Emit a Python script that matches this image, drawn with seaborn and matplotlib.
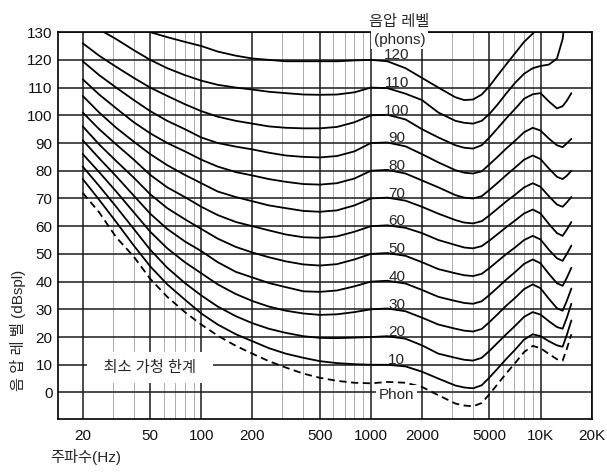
import numpy as np
import pandas as pd
import matplotlib
matplotlib.use("Agg")
import matplotlib.pyplot as plt
import seaborn as sns
from matplotlib.ticker import FixedLocator, FixedFormatter, NullFormatter

nan = np.nan

freqs = [20, 25, 31.5, 40, 50, 63, 80, 100, 125, 160, 200, 250, 315, 400, 500, 630, 800,
         1000, 1250, 1600, 2000, 2500, 3150, 3550, 4000, 4500, 5000, 5600, 6300, 7100, 8000,
         9000, 10000, 11200, 12500, 13500, 14300, 15200]

# sound pressure level (dB SPL) of each equal-loudness contour
phon_120 = [142, 139.5, 137, 133.5, 130, 128.2, 126.5, 125, 123, 121.5, 120.5, 120, 119.5, 119.5,
            119.5, 119.5, 119.8, 120, 119.5, 117,
            113.5, 110, 106.5, 105.5, 105.7, 107.5, 110.5, 114.5, 118.5, 122.5, 126.5, 129.5, 132,
            nan, nan, nan, nan, nan]
phon_110 = [134.5, 131, 127.5, 123.5, 120, 117, 114.5, 112.5, 111, 110, 109.3, 108.5, 108, 107.5,
            107.4, 107.5, 108.3, 110, 109.8, 107.8,
            105.5, 101, 98, 97.3, 97, 98, 100.5, 104, 108, 111.8, 115, 117, 117.8, 118.3, 120.5,
            127.5, 140, nan]
phon_100 = [126, 121.5, 117.5, 113.5, 110, 107, 104, 101.5, 99.5, 98, 97, 96, 95.5, 95.3, 95.3,
            95.8, 97.5, 100, 100.2, 98.5,
            95, 92, 89.2, 88.3, 88, 89.2, 92, 95.4, 99, 102.4, 106, 107.6, 108, 105, 102.5, 103.3,
            105.3, 108]
phon_90 = [119.5, 114.5, 110, 105.5, 101.5, 98, 95, 92, 90, 88.7, 87.7, 86.5, 85.5, 85, 84.8,
           85.3, 87, 90, 90.2, 88.8,
           86, 83, 80.2, 79.3, 79, 79.8, 82.3, 85.1, 88.1, 90.9, 93.9, 95.5, 94.5, 91.6, 89.2,
           88.5, 89.9, 91.5]
phon_80 = [113, 107.5, 102.5, 97.5, 93.5, 90, 87, 84, 81.5, 79.5, 78.3, 77, 76, 75.2, 75, 75.5,
           77.2, 80, 80.3, 79,
           76.5, 74, 71.2, 70.3, 70, 70.8, 73.1, 75.7, 78.5, 81.2, 84, 85.5, 84.2, 80.8, 77.8,
           77, 78.2, 80]
phon_70 = [107, 101, 95.5, 90.5, 86, 82, 78.5, 75.5, 72.5, 70.5, 69, 67.5, 66.5, 65.5, 65.2,
           65.7, 67.5, 70, 70.3, 69.2,
           67, 64.5, 62.2, 61.3, 61, 61.8, 63.9, 66.4, 69, 71.4, 74, 75.5, 74.2, 70.8, 67.8, 67,
           68.6, 70.5]
phon_60 = [101, 95, 89.5, 84, 78.5, 74, 70.5, 67, 64, 61.5, 60, 58.5, 57, 56, 55.8, 56.3, 58,
           60, 60.3, 59.4,
           57.5, 55, 53.2, 52.3, 52, 52.8, 54.8, 57.2, 59.7, 62.1, 64.6, 66, 64.6, 60.8, 57.5,
           56.5, 58.8, 61.5]
phon_50 = [96, 89.5, 83.5, 77.5, 71.5, 66.5, 62.5, 59, 55.5, 52.5, 50.5, 48.8, 47.3, 46.2, 45.8,
           46.3, 48, 50, 50.3, 49.3,
           47, 44.5, 43, 42.3, 42, 42.8, 44.9, 47.4, 50, 52.4, 55, 56.5, 55.2, 51.5, 48.4, 47.5,
           50, 53]
phon_40 = [91, 84.5, 78, 71, 64.5, 59, 54.5, 51, 47, 43.5, 41.5, 39.5, 38, 36.5, 36.3, 36.8,
           38.3, 40, 40.3, 39.3,
           37, 34.5, 33, 32.3, 32, 32.9, 35.2, 37.9, 40.8, 43.5, 46.4, 48, 46.6, 42.8, 39.4, 38.5,
           41.4, 45]
phon_30 = [86, 79.5, 72.5, 65, 58, 52, 47, 43, 39, 35.5, 33, 31, 29.5, 28.5, 28, 28.2, 29, 30,
           30.3, 29.3,
           27, 24.5, 23, 22.3, 22, 22.9, 25.4, 28.3, 31.4, 34.2, 37.3, 39, 37.6, 33.8, 30.4, 29.5,
           33.1, 37.5]
phon_20 = [81.5, 74.5, 67, 59, 51.5, 45, 39.5, 35, 31, 27.5, 25, 23, 21.5, 20.3, 19.7, 19.6,
           19.8, 20, 20.3, 19.4,
           17, 14, 12.5, 11.8, 11.5, 12.5, 15, 18, 21.1, 24.1, 27.3, 29, 28.1, 25.7, 23.6, 23, 27,
           32]
phon_10 = [77, 69.5, 61.5, 53, 45.5, 39, 33.5, 28.5, 24.5, 21, 18.5, 16, 14, 12.5, 11.3, 10.6,
           10.2, 10, 10, 9.4,
           7.5, 5, 2.5, 1.8, 1.5, 2.6, 5.4, 8.7, 12.2, 15.5, 19.1, 21, 20.3, 18.5, 17, 16.5, 20.8,
           26]
threshold = [72, 65, 56, 49, 41, 34.5, 29, 24.5, 20.5, 16.8, 14, 11.3, 9, 6.8, 5.3, 4.2, 3.5,
             3.3, 3.8, 3.5,
             2, -1, -4, -4.7, -5, -3.8, -0.6, 3.1, 7, 10.7, 14.6, 16.8, 16, 13.9, 12, 11.5, 15.8,
             21]

phon_levels = [120, 110, 100, 90, 80, 70, 60, 50, 40, 30, 20, 10]
contours = [phon_120, phon_110, phon_100, phon_90, phon_80, phon_70, phon_60,
            phon_50, phon_40, phon_30, phon_20, phon_10]

x_major = [20, 50, 100, 200, 500, 1000, 2000, 5000, 10000, 20000]
x_labels = ["20", "50", "100", "200", "500", "1000", "2000", "5000", "10K", "20K"]
x_minor = [30, 40, 60, 70, 80, 90, 300, 400, 600, 700, 800, 900,
           3000, 4000, 6000, 7000, 8000, 9000]
y_ticks = list(range(0, 131, 10))

# long table for seaborn
rows = []
for lvl, vals in zip(phon_levels, contours):
    for f, v in zip(freqs, vals):
        rows.append({"freq": f, "level": v, "curve": str(lvl), "kind": "solid"})
for f, v in zip(freqs, threshold):
    rows.append({"freq": f, "level": v, "curve": "thr", "kind": "dashed"})
df = pd.DataFrame(rows).dropna()

sns.set_style("white")
plt.rcParams["font.family"] = ["Liberation Sans", "Noto Sans CJK KR"]

fig = plt.figure(figsize=(6.07, 4.73), dpi=100)
ax = fig.add_axes([0.0956, 0.114, 0.879, 0.818])
ax.set_xscale("log")

sns.lineplot(data=df, x="freq", y="level", units="curve", style="kind",
             dashes={"solid": "", "dashed": (4, 2.5)}, color="black",
             estimator=None, legend=False, linewidth=1.3, ax=ax, zorder=3)

ax.set_xlim(14.3, 20000)
ax.set_ylim(-9.6, 130)
ax.xaxis.set_major_locator(FixedLocator(x_major))
ax.xaxis.set_major_formatter(FixedFormatter(x_labels))
ax.xaxis.set_minor_locator(FixedLocator(x_minor))
ax.xaxis.set_minor_formatter(NullFormatter())
ax.set_yticks(y_ticks)
ax.tick_params(which="both", length=0, labelsize=11, colors="#111111")
ax.tick_params(axis="x", pad=7)
ax.tick_params(axis="y", pad=4)
ax.set_xlabel("")
ax.set_ylabel("")

ax.grid(True, which="major", color="#1a1a1a", linewidth=1.1)
ax.grid(True, which="minor", axis="x", color="#a0a0a0", linewidth=0.6)
ax.set_axisbelow(True)
for sp in ax.spines.values():
    sp.set_color("black")
    sp.set_linewidth(1.2)

# labels of the contours
for lvl in phon_levels:
    ax.text(1420, lvl - 0.8, str(lvl), ha="center", va="bottom", fontsize=11, zorder=4)
ax.text(1420, -0.8, "Phon", ha="center", va="center", fontsize=11, zorder=4,
        bbox=dict(facecolor="white", edgecolor="none", pad=2))
ax.text(1476, 127.3, "(phons)", ha="center", va="center", fontsize=11, zorder=4,
        bbox=dict(facecolor="white", edgecolor="none", pad=2))
ax.text(1476, 133.8, "음압 레벨", ha="center", va="center", fontsize=11, clip_on=False)
ax.text(50, 9, "  최소 가청 한계  ", ha="center", va="center", fontsize=11, zorder=4,
        bbox=dict(facecolor="white", edgecolor="none", pad=6))

fig.text(0.03, 0.302, "음 압 레 벨 (dBspl)", rotation=90, ha="center", va="center", fontsize=11)
fig.text(0.082, 0.034, "주파수(Hz)", ha="left", va="center", fontsize=11)

fig.savefig("out.png", dpi=100)
